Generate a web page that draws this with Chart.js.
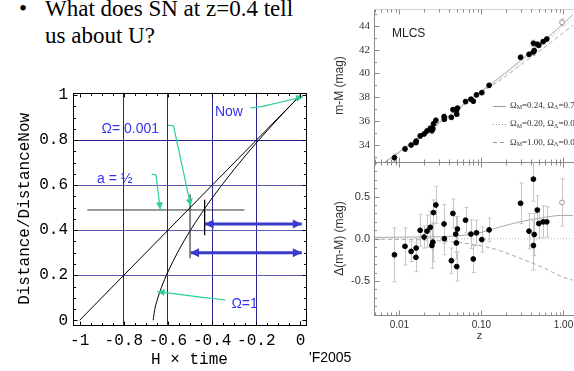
<!DOCTYPE html>
<html>
<head>
<meta charset="utf-8">
<script src="https://cdn.jsdelivr.net/npm/chart.js@4.4.1/dist/chart.umd.min.js"></script>
<style>
  html, body { margin: 0; padding: 0; width: 574px; height: 371px; overflow: hidden; background: #fff; }
  canvas { position: absolute; }
  #ageChart   { left: 0;     top: 85px; }
  #hubbleTop  { left: 320px; top: 0; }
  #hubbleRes  { left: 320px; top: 155px; }
  .slide { position: absolute; font: 23px "Liberation Serif", serif; line-height: 27px; color: #000; white-space: nowrap; }
  #dot   { left: 19px; top: -5px; }
  #quest { left: 45px; top: -5px; }
  #credit { position: absolute; left: 309px; top: 349px; font: 14px "Liberation Sans", sans-serif; line-height: 16px; color: #000; }
</style>
</head>
<body>
<div class="slide" id="dot">•</div>
<div class="slide" id="quest">What does SN at z=0.4 tell<br>us about U?</div>
<canvas id="ageChart" width="320" height="286"></canvas>
<canvas id="hubbleTop" width="270" height="170"></canvas>
<canvas id="hubbleRes" width="270" height="190"></canvas>
<div id="credit">'F2005</div>

<script>
"use strict";

// ── Left panel data: a(t)/a0 against H·t ──────────────────────────────────
const emptyX = [-1, 0];                       // Ω = 0.001, straight line
const emptyY = [0, 1];
const flatX  = [-0.667, -0.66, -0.65, -0.63, -0.6, -0.55, -0.5, -0.45, -0.4, -0.3, -0.2, -0.1, 0];
const flatY  = [0, 0.047, 0.086, 0.145, 0.215, 0.313, 0.397, 0.473, 0.543, 0.671, 0.788, 0.897, 1];
const halfX  = [-0.965, -0.254];              // a = 1/2 line
const halfY  = [0.49, 0.49];
const emptyMarkX = [-0.5, -0.5];
const emptyMarkY = [0.276, 0.56];
const flatMarkX  = [-0.434, -0.434];
const flatMarkY  = [0.378, 0.535];
const ageFlatX  = [-0.434, 0.006];
const ageFlatY  = [0.428, 0.428];
const ageEmptyX = [-0.5, 0.006];
const ageEmptyY = [0.30, 0.30];
const hTicks = [-1, -0.8, -0.6, -0.4, -0.2, 0];
const aTicks = [0, 0.2, 0.4, 0.6, 0.8, 1];

// labels + green pointers (data coords)
const notes = [
  { text: "Now",      x: -0.324, y: 0.925 },
  { text: "Ω= 0.001", x: -0.771, y: 0.85 },
  { text: "a = ½",    x: -0.841, y: 0.628 },
  { text: "Ω=1",      x: -0.253, y: 0.072 },
];
const pointers = [
  [[-0.226, 0.944], [-0.17, 0.95], [0.012, 0.993]],
  [[-0.6, 0.867], [-0.575, 0.864], [-0.497, 0.508]],
  [[-0.674, 0.65], [-0.654, 0.645], [-0.635, 0.493]],
  [[-0.339, 0.09], [-0.452, 0.103], [-0.647, 0.127]],
];

// ── Right panel data: SN Ia Hubble diagram (MLCS) ─────────────────────────
const snZ   = [0.0087, 0.0117, 0.0139, 0.0159, 0.016, 0.0179, 0.020, 0.0217, 0.0238, 0.0249,
               0.0256, 0.026, 0.0278, 0.035, 0.0353, 0.043, 0.0449, 0.0486, 0.0495, 0.051,
               0.050, 0.064, 0.0745, 0.0795, 0.087, 0.101, 0.124, 0.30, 0.38, 0.43,
               0.44, 0.43, 0.479, 0.50, 0.565, 0.626, 0.96];
const snMu  = [32.9, 33.64, 33.97, 34.17, 34.3, 34.73, 34.9, 35.15, 35.38, 35.18,
               35.35, 35.75, 36.05, 36.36, 36.14, 36.3, 36.95, 36.94, 36.88, 37.08,
               36.56, 37.63, 37.83, 37.66, 38.19, 38.38, 39.0, 41.36, 41.61, 41.81,
               41.92, 42.54, 42.46, 42.37, 42.68, 42.9, 44.31];
const snRes = [-0.19, -0.09, -0.15, -0.22, -0.11, 0.10, 0.02, 0.09, 0.135, -0.08,
               -0.04, 0.31, 0.40, 0.175, 0.0, -0.26, 0.30, 0.055, -0.05, 0.115,
               -0.33, 0.22, 0.055, -0.24, 0.07, -0.01, 0.105, 0.42, 0.09, -0.08,
               0.05, 0.706, 0.34, 0.18, 0.20, 0.20, 0.43];
const snErr = [0.32, 0.22, 0.12, 0.17, 0.11, 0.19, 0.13, 0.19, 0.19, 0.27,
               0.23, 0.15, 0.22, 0.23, 0.19, 0.15, 0.17, 0.21, 0.19, 0.15,
               0.17, 0.15, 0.17, 0.16, 0.15, 0.15, 0.14, 0.24, 0.21, 0.29,
               0.25, 0.26, 0.17, 0.17, 0.19, 0.18, 0.28];
const openIdx = 36;   // hollow marker

const modelZ      = [0.0066, 0.01, 0.02, 0.05, 0.1, 0.2, 0.3, 0.5, 0.7, 1.0, 1.3];
const muLambda    = [32.5, 33.4, 34.93, 36.95, 38.52, 40.1, 41.1, 42.4, 43.25, 44.2, 44.95];
const muOpen      = [32.5, 33.38, 34.9, 36.9, 38.45, 39.95, 40.95, 42.2, 43.0, 43.92, 44.6];
const muEdS       = [32.5, 33.37, 34.88, 36.86, 38.38, 39.8, 40.72, 41.86, 42.6, 43.45, 44.05];
const resZ        = [0.0049, 0.01, 0.02, 0.043, 0.089, 0.155, 0.295, 0.56, 0.96, 1.3];
const resLambda   = [0.017, 0.018, 0.022, 0.03, 0.064, 0.13, 0.20, 0.25, 0.277, 0.275];
const resEdS      = [-0.005, -0.008, -0.015, -0.035, -0.075, -0.13, -0.23, -0.34, -0.45, -0.49];
const resOpenZ    = [0.0049, 1.83];
const resOpen     = [0, 0];
const zTicks   = [0.01, 0.1, 1];
const muTicks  = [34, 36, 38, 40, 42, 44];
const resTicks = [-0.5, 0, 0.5];
const legendRows = [
  { m: "0.24", l: "0.76", dash: [] },
  { m: "0.20", l: "0.00", dash: [1, 2] },
  { m: "1.00", l: "0.00", dash: [4, 3] },
];

// ── helpers ───────────────────────────────────────────────────────────────
const pts = (xs, ys) => xs.map((x, i) => ({ x, y: ys[i] }));
const NAVY = "#26268e";
const PALE = "#5c5cb0";
const MONO = '"Liberation Mono", "DejaVu Sans Mono", monospace';
const SANS = '"Liberation Sans", Arial, sans-serif';
const SERIF = '"Liberation Serif", "Times New Roman", serif';

function lineSet(xs, ys, color, width, extra) {
  return Object.assign({
    data: pts(xs, ys), showLine: true, pointRadius: 0,
    borderColor: color, borderWidth: width, fill: false,
  }, extra || {});
}

// no label-overflow padding: keeps the plot box where it should be
function noPad(s) {
  s.paddingTop = 0; s.paddingBottom = 0; s.paddingLeft = 0; s.paddingRight = 0;
}

// ── Left chart plugins ────────────────────────────────────────────────────
const mathFrame = {
  id: "mathFrame",
  afterDraw(chart) {
    const { ctx, chartArea: a, scales: { x, y } } = chart;
    const L = Math.round(a.left) + 0.5, R = Math.round(a.right) + 0.5;
    const T = Math.round(a.top) + 0.5,  B = Math.round(a.bottom) + 0.5;
    ctx.save();
    ctx.strokeStyle = "#000";
    ctx.lineWidth = 1;
    ctx.strokeRect(L, T, R - L, B - T);
    ctx.beginPath();
    for (let i = 0; i <= 20; i++) {
      const len = i % 4 === 0 ? 4 : 2.5;
      const px = Math.round(x.getPixelForValue(-1 + i * 0.05)) + 0.5;
      ctx.moveTo(px, B); ctx.lineTo(px, B - len);
      ctx.moveTo(px, T); ctx.lineTo(px, T + len);
      const py = Math.round(y.getPixelForValue(i * 0.05)) + 0.5;
      ctx.moveTo(L, py); ctx.lineTo(L + len, py);
      ctx.moveTo(R, py); ctx.lineTo(R - len, py);
    }
    ctx.stroke();
    ctx.restore();
  },
};

function head(ctx, tipX, tipY, fromX, fromY, len, half) {
  const ang = Math.atan2(tipY - fromY, tipX - fromX);
  ctx.beginPath();
  ctx.moveTo(tipX, tipY);
  ctx.lineTo(tipX - len * Math.cos(ang) + half * Math.sin(ang), tipY - len * Math.sin(ang) - half * Math.cos(ang));
  ctx.lineTo(tipX - len * Math.cos(ang) - half * Math.sin(ang), tipY - len * Math.sin(ang) + half * Math.cos(ang));
  ctx.closePath();
  ctx.fill();
}

const annotate = {
  id: "annotate",
  afterDatasetsDraw(chart) {
    const { ctx, scales: { x, y } } = chart;
    ctx.save();
    // blue double arrowheads
    chart.data.datasets.forEach((ds, di) => {
      if (!ds.doubleArrow) return;
      const d = chart.getDatasetMeta(di).data;
      const p0 = d[0], p1 = d[d.length - 1];
      ctx.fillStyle = ds.borderColor;
      head(ctx, p0.x, p0.y, p1.x, p1.y, 9, 4.5);
      head(ctx, p1.x, p1.y, p0.x, p0.y, 9, 4.5);
    });
    // green pointers
    ctx.strokeStyle = "#2ccf9c";
    ctx.fillStyle = "#2ccf9c";
    ctx.lineWidth = 1.2;
    pointers.forEach(p => {
      const q = p.map(([vx, vy]) => [x.getPixelForValue(vx), y.getPixelForValue(vy)]);
      ctx.beginPath();
      ctx.moveTo(q[0][0], q[0][1]);
      ctx.lineTo(q[1][0], q[1][1]);
      ctx.lineTo(q[2][0], q[2][1]);
      ctx.stroke();
      head(ctx, q[2][0], q[2][1], q[1][0], q[1][1], 7, 3.5);
    });
    // blue labels
    ctx.fillStyle = "#3434f0";
    ctx.font = "14px " + SANS;
    ctx.textAlign = "center";
    ctx.textBaseline = "middle";
    notes.forEach(n => ctx.fillText(n.text, x.getPixelForValue(n.x), y.getPixelForValue(n.y)));
    ctx.restore();
  },
};

const hLabel = v => Number.isInteger(v) ? String(v) : v.toFixed(1);

new Chart(document.getElementById("ageChart"), {
  type: "scatter",
  data: {
    datasets: [
      lineSet(emptyX, emptyY, "#000", 1),
      lineSet(flatX, flatY, "#000", 1, { tension: 0.3, cubicInterpolationMode: "monotone" }),
      lineSet(halfX, halfY, "#333", 1),
      lineSet(emptyMarkX, emptyMarkY, "#888", 2),
      lineSet(flatMarkX, flatMarkY, "#000", 1.3),
      lineSet(ageFlatX, ageFlatY, "#3a3acc", 3, { doubleArrow: true }),
      lineSet(ageEmptyX, ageEmptyY, "#3a3acc", 3, { doubleArrow: true }),
    ],
  },
  options: {
    responsive: false, animation: false, devicePixelRatio: 1,
    layout: { padding: { top: 7.7, right: 14, left: 0, bottom: 0 } },
    plugins: { legend: { display: false }, tooltip: { enabled: false } },
    scales: {
      x: {
        type: "linear", min: -1.03, max: 0.025,
        afterBuildTicks: s => { s.ticks = hTicks.map(v => ({ value: v })); },
        afterFit: s => { s.height = 46; noPad(s); },
        border: { display: false },
        grid: { drawTicks: false, color: c => (c.tick && (c.tick.value === -1 || c.tick.value === 0)) ? "rgba(0,0,0,0)" : NAVY },
        ticks: { autoSkip: false, maxRotation: 0, padding: 6, color: "#000", font: { family: MONO, size: 16 }, callback: hLabel },
        title: { display: true, text: "H × time", color: "#000", font: { family: MONO, size: 16 }, padding: { top: 0, bottom: 2 } },
      },
      y: {
        type: "linear", min: -0.021, max: 1.011,
        afterBuildTicks: s => { s.ticks = aTicks.map(v => ({ value: v })); },
        afterFit: s => { s.width = 73; noPad(s); },
        border: { display: false },
        grid: {
          drawTicks: false,
          color: c => {
            const v = c.tick ? c.tick.value : null;
            if (v === 0 || v === 1) return "rgba(0,0,0,0)";
            return v === 0.8 ? NAVY : PALE;
          },
        },
        ticks: { autoSkip: false, padding: 5, color: "#000", font: { family: MONO, size: 16 }, callback: hLabel },
        title: { display: true, text: "Distance/DistanceNow", color: "#000", font: { family: MONO, size: 16 }, padding: { top: 15, bottom: 0 } },
      },
    },
  },
  plugins: [mathFrame, annotate],
});

// ── Right chart plugins ───────────────────────────────────────────────────
function zMinors(lo, hi) {
  const out = [];
  for (let e = -3; e <= 0; e++) {
    for (let k = 1; k <= 9; k++) {
      const v = k * Math.pow(10, e);
      if (v >= lo && v <= hi) out.push({ v, major: k === 1 });
    }
  }
  return out;
}

function logAxes(opts) {
  return {
    id: "logAxes",
    afterDraw(chart) {
      const { ctx, chartArea: a, scales: { x, y } } = chart;
      const L = Math.round(a.left) + 0.5, T = Math.round(a.top) + 0.5, B = Math.round(a.bottom) + 0.5;
      ctx.save();
      ctx.lineWidth = 1;
      ctx.strokeStyle = "#8a8a8a";
      ctx.beginPath();
      ctx.moveTo(L, T); ctx.lineTo(L, B);
      ctx.moveTo(L, B); ctx.lineTo(a.right, B);
      ctx.stroke();
      ctx.strokeStyle = opts.topColor;
      ctx.beginPath();
      ctx.moveTo(L, T); ctx.lineTo(a.right, T);
      ctx.stroke();
      ctx.strokeStyle = "#8a8a8a";
      ctx.beginPath();
      zMinors(x.min, x.max).forEach(t => {
        const px = Math.round(x.getPixelForValue(t.v)) + 0.5;
        const len = t.major ? 5 : 3;
        ctx.moveTo(px, B); ctx.lineTo(px, B - len);
        ctx.moveTo(px, T); ctx.lineTo(px, T + len);
      });
      opts.yMinor.forEach(v => {
        const py = Math.round(y.getPixelForValue(v)) + 0.5;
        ctx.moveTo(L, py); ctx.lineTo(L + 2.5, py);
      });
      opts.yMajor.forEach(v => {
        const py = Math.round(y.getPixelForValue(v)) + 0.5;
        ctx.moveTo(L, py); ctx.lineTo(L + 5, py);
      });
      ctx.stroke();
      ctx.restore();
    },
  };
}

const errorBars = {
  id: "errorBars",
  beforeDatasetsDraw(chart) {
    const { ctx, chartArea: a, scales: { y } } = chart;
    chart.data.datasets.forEach((ds, di) => {
      if (!ds.errors) return;
      const meta = chart.getDatasetMeta(di);
      ctx.save();
      ctx.beginPath();
      ctx.rect(a.left, a.top, a.width, a.height);
      ctx.clip();
      ctx.strokeStyle = "#c6c6c6";
      ctx.lineWidth = 1;
      meta.data.forEach((pt, i) => {
        const v = ds.data[i].y, e = ds.errors[i];
        const y1 = y.getPixelForValue(v + e), y2 = y.getPixelForValue(v - e);
        const px = Math.round(pt.x) + 0.5;
        ctx.beginPath();
        ctx.moveTo(px, y1); ctx.lineTo(px, y2);
        ctx.moveTo(px - 2, y1); ctx.lineTo(px + 2, y1);
        ctx.moveTo(px - 2, y2); ctx.lineTo(px + 2, y2);
        ctx.stroke();
      });
      ctx.restore();
    });
  },
};

function omegaText(ctx, x, y, m, l) {
  const big = "9px " + SERIF, small = "6px " + SERIF;
  const put = (t, f, dy) => { ctx.font = f; ctx.fillText(t, x, y + dy); x += ctx.measureText(t).width; };
  put("Ω", big, 0); put("M", small, 2.2); put("=" + m + ", ", big, 0);
  put("Ω", big, 0); put("Λ", small, 2.2); put("=" + l, big, 0);
}

const hubbleLegend = {
  id: "hubbleLegend",
  afterDraw(chart) {
    const { ctx } = chart;
    ctx.save();
    ctx.fillStyle = "#222";
    ctx.font = "12px " + SANS;
    ctx.textBaseline = "middle";
    ctx.fillText("MLCS", 72, 34);
    legendRows.forEach((r, i) => {
      const yy = 105.7 + i * 18.3;
      ctx.strokeStyle = "#999";
      ctx.lineWidth = 1;
      ctx.setLineDash(r.dash);
      ctx.beginPath();
      ctx.moveTo(173, Math.round(yy) + 0.5);
      ctx.lineTo(186, Math.round(yy) + 0.5);
      ctx.stroke();
      ctx.setLineDash([]);
      ctx.fillStyle = "#333";
      omegaText(ctx, 190, yy, r.m, r.l);
    });
    ctx.restore();
  },
};

const snPoints = (ys) => ({
  data: pts(snZ, ys), errors: snErr, pointRadius: 2.4, borderWidth: 1,
  pointBackgroundColor: c => c.dataIndex === openIdx ? "#fff" : "#000",
  pointBorderColor: c => c.dataIndex === openIdx ? "#999" : "#000",
});

const zAxis = (extra) => Object.assign({
  type: "logarithmic", min: 0.0049, max: 1.83,
  afterBuildTicks: s => { s.ticks = zTicks.map(v => ({ value: v })); },
  border: { display: false },
  grid: { display: false, drawTicks: false },
}, extra);

new Chart(document.getElementById("hubbleTop"), {
  type: "scatter",
  data: {
    datasets: [
      snPoints(snMu),
      lineSet(modelZ, muLambda, "#a8a8a8", 1, { tension: 0.3, cubicInterpolationMode: "monotone" }),
      lineSet(modelZ, muOpen, "#b4b4b4", 1, { borderDash: [1, 2], tension: 0.3, cubicInterpolationMode: "monotone" }),
      lineSet(modelZ, muEdS, "#a8a8a8", 1, { borderDash: [4, 3], tension: 0.3, cubicInterpolationMode: "monotone" }),
    ],
  },
  options: {
    responsive: false, animation: false, devicePixelRatio: 1,
    layout: { padding: { top: 9, right: 0, left: 0, bottom: 8 } },
    plugins: { legend: { display: false }, tooltip: { enabled: false } },
    scales: {
      x: zAxis({ display: false }),
      y: {
        type: "linear", min: 32.54, max: 45.43,
        afterBuildTicks: s => { s.ticks = muTicks.map(v => ({ value: v })); },
        afterFit: s => { s.width = 54; noPad(s); },
        border: { display: false },
        grid: { display: false, drawTicks: false },
        ticks: { padding: 4, color: "#333", font: { family: SERIF, size: 11 } },
        title: { display: true, text: "m-M (mag)", color: "#333", font: { family: SANS, size: 12 }, padding: { top: 12, bottom: 0 } },
      },
    },
  },
  plugins: [errorBars, logAxes({ topColor: "#d0d0d0", yMajor: muTicks, yMinor: [33, 35, 37, 39, 41, 43, 45] }), hubbleLegend],
});

new Chart(document.getElementById("hubbleRes"), {
  type: "scatter",
  data: {
    datasets: [
      snPoints(snRes),
      lineSet(resZ, resLambda, "#a8a8a8", 1, { tension: 0.3, cubicInterpolationMode: "monotone" }),
      lineSet(resOpenZ, resOpen, "#bdbdbd", 1, { borderDash: [1, 2] }),
      lineSet(resZ, resEdS, "#a8a8a8", 1, { borderDash: [4, 3], tension: 0.3, cubicInterpolationMode: "monotone" }),
    ],
  },
  options: {
    responsive: false, animation: false, devicePixelRatio: 1,
    layout: { padding: { top: 7, right: 0, left: 0, bottom: 0 } },
    plugins: { legend: { display: false }, tooltip: { enabled: false } },
    scales: {
      x: zAxis({
        afterFit: s => { s.height = 30; noPad(s); },
        ticks: { autoSkip: false, maxRotation: 0, padding: 4, color: "#333", font: { family: SANS, size: 10 }, callback: v => Number(v).toFixed(2) },
        title: { display: true, text: "z", color: "#333", font: { family: SANS, size: 11 }, padding: { top: 0, bottom: 2 } },
      }),
      y: {
        type: "linear", min: -0.903, max: 0.909,
        afterBuildTicks: s => { s.ticks = resTicks.map(v => ({ value: v })); },
        afterFit: s => { s.width = 54; noPad(s); },
        border: { display: false },
        grid: { display: false, drawTicks: false },
        ticks: { padding: 4, color: "#333", font: { family: SANS, size: 11 }, callback: v => v.toFixed(1) },
        title: { display: true, text: "Δ(m-M) (mag)", color: "#333", font: { family: SANS, size: 12 }, padding: { top: 12, bottom: 0 } },
      },
    },
  },
  plugins: [errorBars, logAxes({ topColor: "#8a8a8a", yMajor: resTicks,
    yMinor: [-0.9, -0.8, -0.7, -0.6, -0.4, -0.3, -0.2, -0.1, 0.1, 0.2, 0.3, 0.4, 0.6, 0.7, 0.8, 0.9] })],
});
</script>
</body>
</html>
